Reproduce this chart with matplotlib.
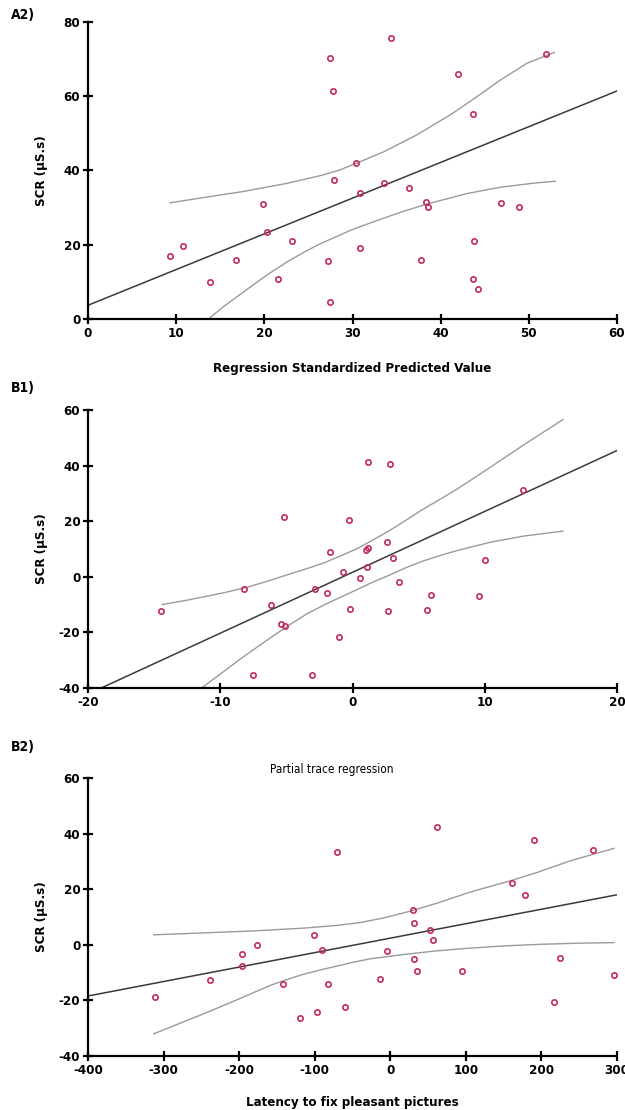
import numpy as np
import matplotlib
matplotlib.use("Agg")
import matplotlib.pyplot as plt

plt.rcParams['font.family'] = ['DejaVu Sans']
plt.rcParams['font.stretch'] = 'condensed'
plt.rcParams['axes.unicode_minus'] = False

# ---- A2: SCR vs regression standardized predicted value ----
a2_x = [9.3, 10.8, 13.8, 16.8, 19.8, 20.3, 21.6, 23.1, 27.2, 27.4, 27.4, 27.8, 27.9, 30.4, 30.9,
        30.9, 33.6, 34.4, 36.4, 37.8, 38.3, 38.6, 42.0, 43.7, 43.8, 43.7, 44.2, 46.8, 48.9, 52.0]
a2_y = [17.0, 19.7, 9.9, 15.9, 31.0, 23.4, 10.8, 21.0, 15.5, 4.7, 70.2, 61.5, 37.4, 42.1, 34.0,
        19.2, 36.5, 75.7, 35.2, 15.8, 31.5, 30.1, 65.9, 55.2, 21.0, 10.8, 8.2, 31.3, 30.2, 71.5]
a2_fit = (3.7, 0.962)  # intercept, slope
a2_up_x = [9.3, 12, 15, 17.5, 20, 22.5, 24.5, 26.5, 28.5, 30.4, 33.6, 37.3, 41.1, 43.7, 46.8, 49.8, 52.9]
a2_up_y = [31.3, 32.3, 33.4, 34.3, 35.4, 36.5, 37.6, 38.7, 40.1, 41.9, 45.1, 49.6, 55.0, 59.2, 64.4, 68.9, 71.8]
a2_lo_x = [13.8, 15.3, 16.9, 18.8, 20.7, 22.6, 24.5, 26.2, 27.9, 29.8, 31.7, 35.5, 38.5, 43.0, 46.8, 50.6, 53.0]
a2_lo_y = [0.3, 3.2, 6.0, 9.3, 12.5, 15.4, 18.0, 20.1, 21.9, 23.9, 25.6, 28.8, 31.0, 33.8, 35.5, 36.6, 37.1]

# ---- B1 ----
b1_x = [-14.5, -8.2, -7.5, -6.2, -5.4, -5.2, -5.1, -3.1, -2.8, -1.9, -1.7, -1.0, -0.7, -0.3, -0.2,
        0.6, 1.0, 1.1, 1.2, 1.2, 2.6, 2.7, 2.8, 3.1, 3.5, 5.6, 5.9, 9.6, 10.0, 12.9]
b1_y = [-12.4, -4.3, -35.2, -10.0, -16.9, 21.4, -17.8, -35.2, -4.4, -5.8, 9.0, -21.6, 1.6, 20.4, -11.6,
        -0.4, 9.8, 3.5, 41.1, 10.2, 12.6, -12.2, 40.6, 6.7, -2.0, -11.9, -6.4, -6.8, 6.0, 31.3]
b1_fit = (1.6, 2.19)
b1_up_x = [-14.4, -12.7, -11, -9.5, -8, -6.5, -5, -3.6, -2.2, -1, 0.3, 1.5, 2.8, 4, 5.3, 6.6, 7.9, 10.4, 12.9, 15.9]
b1_up_y = [-10.0, -8.6, -7.0, -5.5, -3.8, -1.7, 0.6, 2.7, 4.9, 7.3, 10.0, 13.1, 16.6, 20.2, 24.2, 27.8, 31.5, 39.3, 47.3, 56.5]
b1_lo_x = [-11.4, -10, -8.6, -7.3, -6.1, -4.8, -3.5, -2.3, -1.2, 0.3, 1.5, 2.8, 4, 5.3, 6.6, 7.9, 10.4, 12.9, 15.9]
b1_lo_y = [-40, -35.0, -30.0, -25.6, -21.6, -17.4, -13.5, -10.5, -8.0, -4.7, -2.0, 0.6, 3.2, 5.6, 7.6, 9.4, 12.4, 14.6, 16.4]

# ---- B2: latency to fix pleasant pictures ----
b2_x = [-311, -238, -196, -196, -177, -142, -120, -101, -97, -91, -82, -70, -60, -14, -4,
        30, 31, 32, 35, 52, 57, 62, 95, 161, 178, 190, 216, 224, 268, 296]
b2_y = [-18.8, -12.6, -3.4, -7.6, -0.2, -14.0, -26.4, 3.5, -24.2, -1.8, -14.0, 33.5, -22.2, -12.2, -2.2,
        12.6, 7.9, -5.0, -9.4, 5.2, 1.6, 42.4, -9.4, 22.4, 18.1, 37.6, -20.4, -4.7, 34.1, -10.8]
b2_fit = (2.4, 0.052)
b2_up_x = [-313, -247, -181, -115, -70, -40, -10, 25, 62, 106, 156, 194, 238, 296]
b2_up_y = [3.6, 4.3, 5.0, 6.0, 7.0, 8.0, 9.6, 12.0, 15.0, 19.0, 22.8, 26.0, 30.2, 34.7]
b2_lo_x = [-313, -280, -247, -225, -203, -181, -159, -137, -115, -92, -70, -48, -26, 0, 20, 60, 100, 150, 200, 250, 296]
b2_lo_y = [-32.0, -28.4, -24.8, -22.3, -19.8, -17.2, -14.6, -12.5, -10.6, -9.0, -7.6, -6.2, -5.0, -4.1, -3.4, -2.2, -1.3, -0.4, 0.2, 0.6, 0.8]

fig = plt.figure(figsize=(6.25, 11.10), dpi=100)

panels = [
    dict(rect=[0.1408, 0.7126, 0.8464, 0.2676], x=a2_x, y=a2_y, fit=a2_fit,
         up=(a2_up_x, a2_up_y), lo=(a2_lo_x, a2_lo_y), xlim=(0, 60), ylim=(0, 80),
         xticks=range(0, 61, 10), yticks=range(0, 81, 20),
         xlabel='Regression Standardized Predicted Value'),
    dict(rect=[0.1408, 0.3802, 0.8464, 0.2505], x=b1_x, y=b1_y, fit=b1_fit,
         up=(b1_up_x, b1_up_y), lo=(b1_lo_x, b1_lo_y), xlim=(-20, 20), ylim=(-40, 60),
         xticks=range(-20, 21, 10), yticks=range(-40, 61, 20), xlabel=None),
    dict(rect=[0.1408, 0.0486, 0.8464, 0.2505], x=b2_x, y=b2_y, fit=b2_fit,
         up=(b2_up_x, b2_up_y), lo=(b2_lo_x, b2_lo_y), xlim=(-400, 300), ylim=(-40, 60),
         xticks=range(-400, 301, 100), yticks=range(-40, 61, 20),
         xlabel='Latency to fix pleasant pictures'),
]

axes = []
for p in panels:
    ax = fig.add_axes(p['rect'])
    ax.plot(p['up'][0], p['up'][1], color='#9a9a9a', lw=1.0)
    ax.plot(p['lo'][0], p['lo'][1], color='#9a9a9a', lw=1.0)
    b0, b1 = p['fit']
    ax.axline((0, b0), slope=b1, color='#3a3a3a', lw=1.1)
    ax.plot(p['x'], p['y'], 'o', ms=3.8, mfc='none', mec='#c22a5c', mew=1.2)
    ax.set_xlim(*p['xlim'])
    ax.set_ylim(*p['ylim'])
    ax.set_xticks(list(p['xticks']))
    ax.set_yticks(list(p['yticks']))
    for s in ['top', 'right']:
        ax.spines[s].set_visible(False)
    for s in ['left', 'bottom']:
        ax.spines[s].set_linewidth(1.6)
    ax.tick_params(direction='inout', length=7, width=1.6, labelsize=9.5, pad=2)
    for lab in ax.get_xticklabels() + ax.get_yticklabels():
        lab.set_fontweight('bold')
    ax.set_ylabel('SCR (µS.s)', fontsize=9.5, fontweight='bold')
    ax.yaxis.set_label_coords(-0.076, 0.5)
    if p['xlabel']:
        ax.set_xlabel(p['xlabel'], fontsize=9.5, fontweight='bold')
        ax.xaxis.set_label_coords(0.5, -0.145)
    axes.append(ax)

axes[2].text(0.46, 1.03, 'Partial trace regression', transform=axes[2].transAxes,
             ha='center', va='center', fontsize=8.5)

fig.text(0.018, 1 - 15 / 1110, 'A2)', fontsize=10, fontweight='bold', va='center')
fig.text(0.018, 1 - 388 / 1110, 'B1)', fontsize=10, fontweight='bold', va='center')
fig.text(0.018, 1 - 747 / 1110, 'B2)', fontsize=10, fontweight='bold', va='center')

fig.savefig('out.png', dpi=100)
